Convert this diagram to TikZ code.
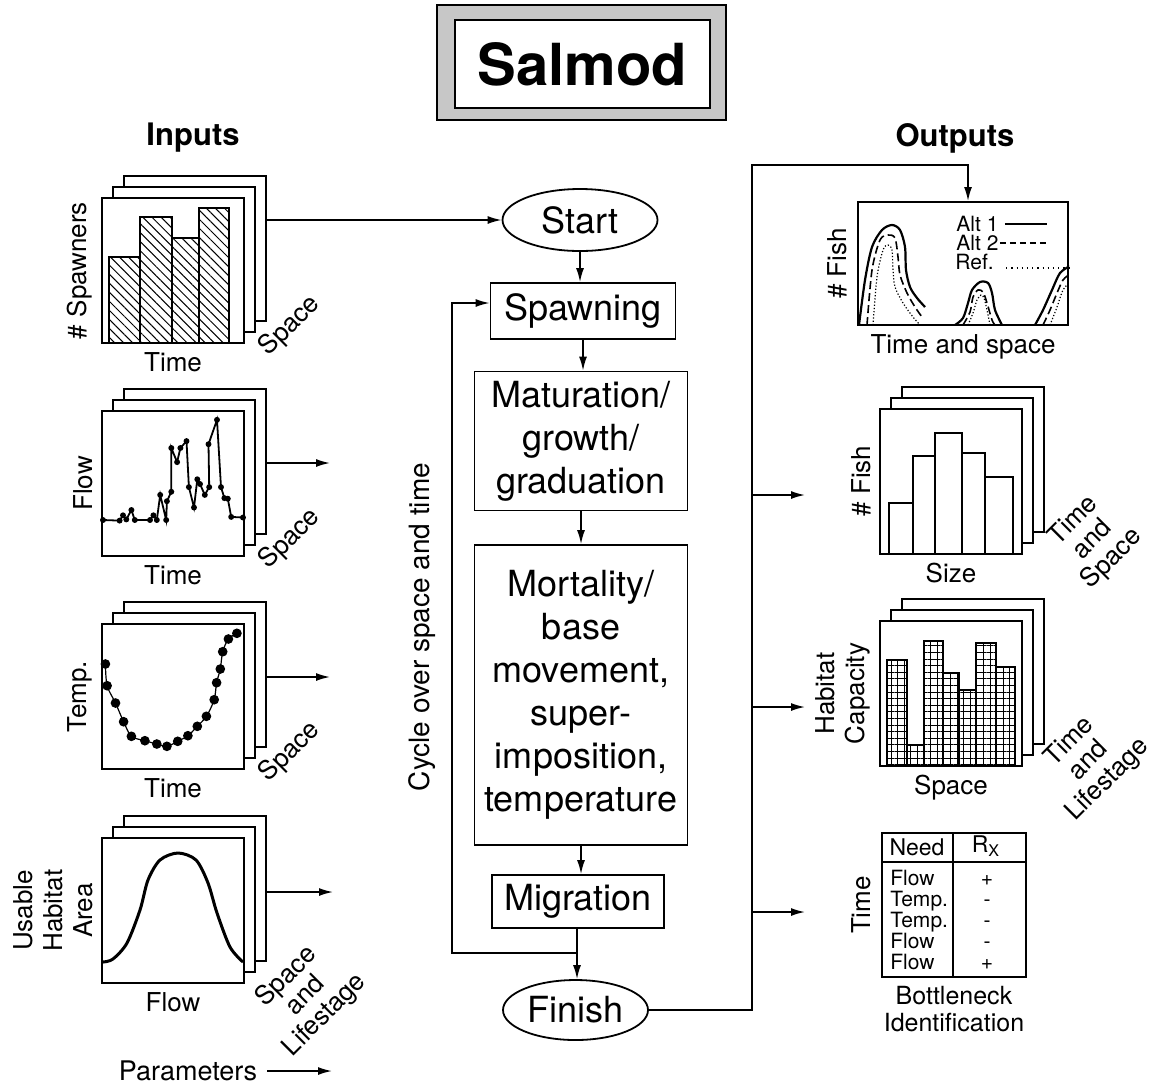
\documentclass[tikz,border=0pt]{standalone}
\usepackage{fontspec}
\setmainfont{TeX Gyre Heros}
\usetikzlibrary{shapes.geometric,arrows.meta,patterns.meta,positioning}

\tikzset{
  stage/.style={draw,line width=0.9pt,align=center,inner sep=0pt,font=\fontsize{18}{21.5}\selectfont},
  terminal/.style={stage,ellipse},
  sheet/.style={draw,line width=1pt,fill=white,inner sep=0pt,minimum width=71pt,minimum height=72.5pt},
  lbl/.style={font=\fontsize{13}{15}\selectfont,align=center,inner sep=0pt},
  slant/.style={lbl,rotate=45,font=\fontsize{13}{13.5}\selectfont},
  heading/.style={font=\fontsize{15.5}{18}\selectfont\bfseries},
  link/.style={line width=0.8pt},
  hatchbar/.style={draw,line width=1.2pt,pattern={Lines[angle=-45,distance=3.2pt,line width=0.5pt]}},
  gridbar/.style={draw,line width=1pt,pattern={Hatch[angle=0,distance=3.3pt,line width=0.5pt]}},
}

\begin{document}
\begin{tikzpicture}[x=0.5pt,y=-0.5pt,>={Latex[length=7pt,width=4pt]}]
\useasboundingbox (0,0) rectangle (1154,1088);

% title
\node[draw,line width=0.6pt,fill=black!22,minimum width=144.5pt,minimum height=57.5pt] (titlebg) at (581.5,62.5) {};
\node[draw,line width=1.2pt,fill=white,minimum width=127.5pt,minimum height=44pt,font=\fontsize{29}{32}\selectfont\bfseries] (title) at (582.5,64) {Salmod};
\node[heading] (inputs) at (193,138) {Inputs};
\node[heading] (outputs) at (955,138) {Outputs};

% model steps
\node[terminal,minimum width=77.5pt,minimum height=31pt] (start) at (580,220) {Start};
\node[stage,minimum width=92.5pt,minimum height=28pt] (spawn) at (583,311) {Spawning};
\node[stage,minimum width=106.5pt,minimum height=69.5pt] (matur) at (581,441) {Maturation/\\growth/\\graduation};
\node[stage,minimum width=106.5pt,minimum height=150pt] (mort) at (581,695) {Mortality/\\base\\movement,\\super-\\imposition,\\temperature};
\node[stage,minimum width=86pt,minimum height=26.5pt] (migr) at (578,901.5) {Migration};
\node[terminal,minimum width=72.5pt,minimum height=30pt] (finish) at (575.5,1010) {Finish};

\draw[link,->] (start.south) -- (start.south |- spawn.north);
\draw[link,->] (spawn.south) -- (spawn.south |- matur.north);
\draw[link,->] (matur.south) -- (matur.south |- mort.north);
\draw[link,->] (mort.south) -- (mort.south |- migr.north);
\coordinate (join) at (577,953);
\coordinate (loop) at (452,953);
\draw[link] (migr.south -| join) -- (join);
\draw[link,->] (join) -- (join |- finish.north);
\draw[link,->] (join) -- (loop) |- ([yshift=4pt]spawn.west);
\node[rotate=90,font=\fontsize{14}{16}\selectfont] (cycle) at (422,627) {Cycle over space and time};

% input: spawners
\node[sheet] (spn3) at (195,248.5) {};
\node[sheet] (spn2) at (184,259.5) {};
\node[sheet] (spn1) at (173,270.5) {};
\draw[hatchbar] (109,343) rectangle (140,257);
\draw[hatchbar] (140,343) rectangle (172,217);
\draw[hatchbar] (172,343) rectangle (199,238);
\draw[hatchbar] (199,343) rectangle (229,208);
\node[lbl,rotate=90,anchor=south] at ([xshift=-4pt]spn1.west) {\# Spawners};
\node[lbl,below=4pt of spn1] {Time};
\node[slant] at (290,326) {Space};
\draw[link,->] (spn3.east |- start.west) -- (start.west);

% input: flow
\node[sheet] (flw3) at (195,461.5) {};
\node[sheet] (flw2) at (184,472.5) {};
\node[sheet] (flw1) at (173,483.5) {};
\draw[line width=0.9pt] plot[mark=*,mark size=1pt] coordinates {(103,520) (119.6,520.6) (123,515.3) (126.3,519.4) (131.4,510) (134.8,520) (150,520) (153.4,515.3) (156.8,520) (160.2,494.9) (166.2,520) (166.9,501.2) (171.3,491.8) (171.3,448) (177.1,462.1) (180.4,448) (186.5,441.1) (188.9,487.1) (194,507.5) (197.3,479.3) (200,484) (204.8,494.9) (209.2,487.1) (208.5,444.2) (217,419.8) (221,487.1) (224.4,498.1) (227.8,498.7) (231.2,516.9) (243,517.5)};
\node[lbl,rotate=90,anchor=south] at ([xshift=-4pt]flw1.west) {Flow};
\node[lbl,below=4pt of flw1] {Time};
\node[slant] at (290,539) {Space};
\coordinate (flowin) at (330,463);
\draw[link,->] (flw3.east |- flowin) -- (flowin);

% input: temperature
\node[sheet] (tmp3) at (195,674.5) {};
\node[sheet] (tmp2) at (184,685.5) {};
\node[sheet] (tmp1) at (173,696.5) {};
\draw[line width=0.6pt] plot[smooth,mark=*,mark size=2.1pt] coordinates {(105.4,664) (107.1,685.7) (115.5,703) (123.6,721.7) (131.4,736.3) (144.9,740.7) (156.8,744) (166.9,746.3) (177.7,741.3) (187.9,735.7) (197.3,726.3) (206.4,716.3) (214.2,699.7) (216.6,682.7) (220.3,669) (222.7,651.7) (228.4,639) (236.9,633.3)};
\node[lbl,rotate=90,anchor=south] at ([xshift=-4pt]tmp1.west) {Temp.};
\node[lbl,below=4pt of tmp1] {Time};
\node[slant] at (290,752) {Space};
\coordinate (tempin) at (330,677);
\draw[link,->] (tmp3.east |- tempin) -- (tempin);

% input: usable habitat area
\node[sheet] (hab3) at (195,888.5) {};
\node[sheet] (hab2) at (184,899.5) {};
\node[sheet] (hab1) at (173,910.5) {};
\draw[line width=1.5pt] plot[smooth] coordinates {(103,962) (113,959) (127,943) (140,910) (148,880) (160,860) (178,853) (196,860) (208,883) (217,913) (230,947) (243,962)};
\node[lbl,rotate=90,anchor=south] at ([xshift=-4pt]hab1.west) {Usable\\Habitat\\Area};
\node[lbl,below=4pt of hab1] {Flow};
\node[slant] at (306,996) {Space\\and\\Lifestage};
\coordinate (habin) at (333,892);
\draw[link,->] (hab3.east |- habin) -- (habin);

\node[lbl,font=\fontsize{13.5}{15}\selectfont] (params) at (188,1071) {Parameters};
\coordinate (parto) at (332,1071);
\draw[link,->] ([xshift=5pt]params.east) -- (parto);

% output: fish over time and space
\node[draw,line width=1pt,inner sep=0pt,minimum width=105pt,minimum height=61.5pt] (fishts) at (963,263.5) {};
\begin{scope}
\clip (fishts.south west) rectangle (fishts.north east);
\draw[line width=1.1pt] plot[smooth] coordinates {(859,325) (865,280) (872,247) (882,230) (892,225) (900,230) (905,247) (906,270) (910,287) (917,298) (925,307)};
\draw[line width=0.8pt,dash pattern=on 4pt off 2pt] plot[smooth] coordinates {(867,325) (872,270) (880,240) (888,235) (895,238) (898,257) (900,275) (907,293) (915,307) (922,317)};
\draw[line width=0.6pt,densely dotted] plot[smooth] coordinates {(873,325) (877,277) (883,250) (888,245) (892,250) (893,270) (895,287) (903,303) (913,317) (920,325)};
\draw[line width=1.1pt] plot[smooth] coordinates {(955,325) (963,318) (968,303) (972,290) (980,282) (988,283) (992,293) (995,310) (1002,325)};
\draw[line width=0.8pt,dash pattern=on 4pt off 2pt] plot[smooth] coordinates {(963,325) (970,312) (973,297) (978,290) (983,292) (987,303) (992,320) (995,325)};
\draw[line width=0.6pt,densely dotted] plot[smooth] coordinates {(968,325) (973,313) (977,300) (981,295) (984,298) (987,310) (990,325)};
\draw[line width=1.1pt] plot[smooth] coordinates {(1035,325) (1043,310) (1052,290) (1060,273) (1070,266)};
\draw[line width=0.8pt,dash pattern=on 4pt off 2pt] plot[smooth] coordinates {(1043,325) (1050,310) (1057,293) (1063,280) (1070,274)};
\draw[line width=0.6pt,densely dotted] plot[smooth] coordinates {(1050,325) (1057,307) (1063,290) (1070,282)};
\end{scope}
\node[font=\fontsize{10.5}{11}\selectfont,anchor=west,inner sep=0pt] (alt1) at (956,224) {Alt 1};
\node[font=\fontsize{10.5}{11}\selectfont,anchor=west,inner sep=0pt] (alt2) at (956,243) {Alt 2};
\node[font=\fontsize{10.5}{11}\selectfont,anchor=west,inner sep=0pt] (ref) at (955,262) {Ref.};
\draw[line width=0.6pt] ([xshift=3pt]alt1.east) -- ++(21pt,0);
\draw[line width=0.6pt,dash pattern=on 3pt off 2pt] ([xshift=0.5pt]alt2.east) -- ++(23pt,0);
\draw[line width=0.6pt,dotted] ([xshift=6pt,yshift=-3pt]ref.east) -- ++(32pt,0);
\node[lbl,rotate=90,anchor=south] at ([xshift=-5pt]fishts.west) {\# Fish};
\node[lbl,below=4pt of fishts] {Time and space};
\coordinate (bustop) at (752,165);
\draw[link,->] (finish.east) -| (bustop) -| ([xshift=2.5pt]fishts.north);

% output: size distribution
\node[sheet] (sz3) at (973,459) {};
\node[sheet] (sz2) at (962,470) {};
\node[sheet] (sz1) at (951,481) {};
\draw[line width=1pt] (889,553.5) rectangle (913,503);
\draw[line width=1pt] (913,553.5) rectangle (935,456);
\draw[line width=1pt] (935,553.5) rectangle (962,433);
\draw[line width=1pt] (962,553.5) rectangle (985,453);
\draw[line width=1pt] (985,553.5) rectangle (1013,477);
\node[lbl,rotate=90,anchor=south] at ([xshift=-4pt]sz1.west) {\# Fish};
\node[lbl,below=4pt of sz1] {Size};
\node[slant] at (1093,540) {Time\\and\\Space};
\coordinate (sizein) at (805,495);
\draw[link,->] (bustop |- sizein) -- (sizein);

% output: habitat capacity
\node[sheet] (cap3) at (973,671.5) {};
\node[sheet] (cap2) at (962,682.5) {};
\node[sheet] (cap1) at (951,693.5) {};
\draw[gridbar] (887,766) rectangle (907,660);
\draw[gridbar] (907,766) rectangle (924,745);
\draw[gridbar] (924,766) rectangle (943,641);
\draw[gridbar] (943,766) rectangle (959,673);
\draw[gridbar] (959,766) rectangle (976,690);
\draw[gridbar] (976,766) rectangle (996,643);
\draw[gridbar] (996,766) rectangle (1015,667);
\node[lbl,rotate=90,anchor=south] at ([xshift=-4pt]cap1.west) {Habitat\\Capacity};
\node[lbl,below=4pt of cap1] {Space};
\node[slant] at (1089,761) {Time\\and\\Lifestage};
\coordinate (capin) at (805,707);
\draw[link,->] (bustop |- capin) -- (capin);

% output: bottleneck table
\node[draw,line width=1pt,inner sep=0pt,minimum width=72pt,minimum height=72pt] (tab) at (954,905) {};
\coordinate (hdr) at (954,862);
\coordinate (colsep) at (953,905);
\draw[line width=0.8pt] (tab.west |- hdr) -- (tab.east |- hdr);
\draw[line width=0.8pt] (colsep |- tab.north) -- (colsep |- tab.south);
\node[font=\fontsize{11.5}{12}\selectfont] (need) at (917,847) {Need};
\node[font=\fontsize{11.5}{12}\selectfont] (rx) at (986,846) {R\textsubscript{X}};
\node[anchor=west,align=left,inner sep=0pt,font=\fontsize{10.5}{10.5}\selectfont] (rows) at (890,920) {Flow\\Temp.\\Temp.\\Flow\\Flow};
\node[align=center,inner sep=0pt,font=\fontsize{10.5}{10.5}\selectfont] (signs) at (987,922) {+\\-\\-\\-\\+};
\node[lbl,rotate=90,anchor=south] at ([xshift=-5pt]tab.west) {Time};
\node[lbl,below=4pt of tab,font=\fontsize{12.5}{13.5}\selectfont] {Bottleneck\\Identification};
\coordinate (tabin) at (805,912);
\draw[link,->] (bustop |- tabin) -- (tabin);

\end{tikzpicture}
\end{document}
